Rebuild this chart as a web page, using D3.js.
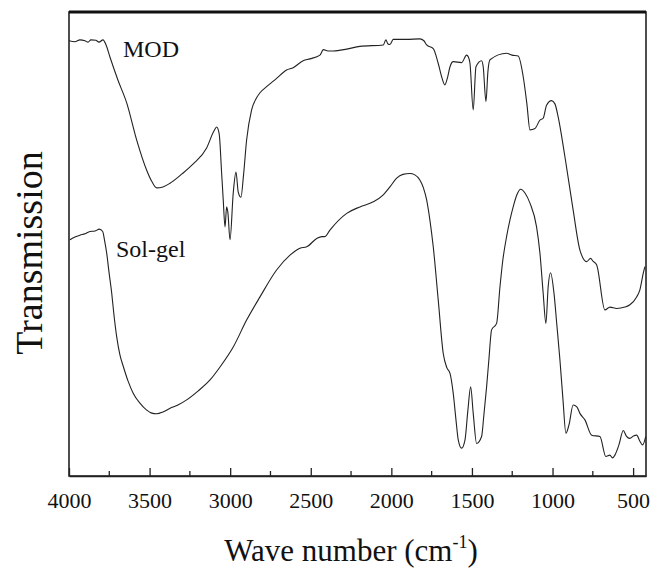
<!DOCTYPE html>
<html lang="en">
<head>
    <meta charset="UTF-8">
    <title>FTIR spectra MOD / Sol-gel</title>
    <script src="https://d3js.org/d3.v7.min.js"></script>
    <style>
        body { margin: 0; background: #fff; }
        text { font-family: "Liberation Serif", "Times New Roman", serif; fill: #111; }
    </style>
</head>
<body>
    <div id="my_dataviz"></div>

    <script>
        // wave numbers (cm-1) and transmission (arbitrary units)
        var modWave = [4000,3963,3932,3901,3882,3864,3833,3814,3789,3770,3746,3696,3642,3580,3518,3485,3456,3417,3373,3299,
                       3231,3146,3100,3084,3068,3054,3043,3032,3022,3014,3001,2981,2964,2950,2933,2917,2898,2867,2836,2815,
                       2774,2712,2650,2609,2547,2505,2443,2422,2393,2360,2277,2195,2050,2034,2021,2009,1988,1905,1823,1798,
                       1781,1740,1709,1686,1668,1652,1636,1616,1564,1533,1522,1512,1492,1475,1440,1430,1413,1401,1388,1285,
                       1252,1213,1182,1159,1140,1109,1078,1058,1037,1006,985,965,923,872,830,788,764,749,726,675,
                       644,602,551,520,478,458,437,427];
        var modT = [93.8,93.6,94.0,93.8,93.5,94.0,93.9,93.5,94.0,92.9,90.3,85.3,80.4,72.4,65.9,63.4,62.1,62.3,63.1,65.1,
                    67.2,70.7,74.4,75.2,73.7,65.9,59.5,53.7,58.0,56.7,50.9,61.0,65.5,61.2,60.1,64.9,72.4,78.9,81.5,82.6,
                    83.9,85.7,87.5,88.0,89.5,89.9,90.7,91.9,91.6,91.6,92.0,92.6,92.9,94.0,93.1,93.0,94.1,94.1,94.2,93.8,
                    92.9,92.1,88.9,85.8,84.3,85.8,88.2,89.3,89.1,90.7,90.3,88.9,78.9,88.2,89.5,88.2,80.7,87.1,89.7,91.1,
                    90.7,90.5,86.1,80.2,74.6,74.9,76.7,77.1,79.9,80.9,80.2,77.4,68.8,57.3,48.7,46.2,46.9,46.3,45.5,35.8,
                    36.4,36.1,36.4,36.9,38.6,40.1,43.7,45.1];

        var solWave = [3994,3963,3932,3901,3870,3839,3812,3791,3780,3766,3752,3735,3721,3704,3684,3663,3634,3601,3560,3518,
                       3491,3456,3417,3373,3324,3270,3200,3125,3063,2981,2898,2815,2712,2629,2567,2525,2463,2431,2412,2381,
                       2277,2195,2112,2050,2009,1967,1928,1885,1854,1823,1801,1781,1761,1740,1709,1678,1655,1636,1616,1599,
                       1585,1564,1543,1525,1508,1492,1471,1440,1426,1409,1395,1378,1347,1326,1308,1285,1264,1244,1221,1198,
                       1171,1140,1099,1078,1058,1041,1027,1012,991,973,954,935,917,898,872,849,830,799,757,706,
                       669,644,628,613,588,561,542,520,498,478,458,441,422];
        var solT = [50.9,51.5,51.9,52.2,52.7,52.8,53.2,52.7,50.9,48.0,44.0,39.4,34.7,30.0,26.1,23.6,20.5,17.8,15.7,14.2,
                    13.6,13.4,13.8,14.6,15.3,16.4,18.3,20.7,23.5,27.8,33.6,38.6,44.4,47.6,49.1,49.4,51.2,51.6,51.6,53.0,
                    56.6,58.0,59.1,60.6,62.3,64.2,65.0,65.2,64.9,63.8,62.1,59.5,55.2,49.4,37.9,26.4,23.3,22.1,17.8,12.1,
                    7.8,6.0,7.8,14.2,19.2,13.5,7.0,8.5,13.1,19.2,25.0,31.5,32.9,40.8,46.6,51.6,55.2,58.0,60.6,61.8,
                    61.0,58.8,53.7,48.0,39.4,32.9,40.8,43.8,39.4,32.5,25.0,16.4,9.2,11.0,15.3,14.9,13.5,12.1,8.8,8.5,
                    4.2,4.5,3.9,4.5,6.7,9.8,8.6,8.1,8.6,8.8,7.5,6.7,8.5];

        var tickValues = [4000,3500,3000,2500,2000,1500,1000,500];
        var minorTicks = [3750,3250,2750,2250,1750,1250,750];

        var seriesNames = ["MOD", "Sol-gel"];

        var W = 650, H = 569;
        var margin = {top: 12, right: 4, bottom: 93, left: 69},
            width = W - margin.left - margin.right,
            height = H - margin.top - margin.bottom;

        var svg = d3.select("#my_dataviz")
            .append("svg")
                .attr("width", W)
                .attr("height", H)
            .append("g")
                .attr("transform", "translate(" + margin.left + "," + margin.top + ")");

        // reversed x axis, as usual for IR spectra
        var x = d3.scaleLinear()
            .domain([4000, 420])
            .range([0, width]);

        var y = d3.scaleLinear()
            .domain([0, 100])
            .range([height, 0]);

        var line = d3.line()
            .x(function(d) { return x(d[0]); })
            .y(function(d) { return y(d[1]); })
            .curve(d3.curveMonotoneX);

        var modData = d3.zip(modWave, modT);
        var solData = d3.zip(solWave, solT);

        svg.selectAll(".spectrum")
            .data([modData, solData])
            .enter()
            .append("path")
                .attr("class", "spectrum")
                .attr("d", line)
                .attr("fill", "none")
                .attr("stroke", "#222")
                .attr("stroke-width", 1.1)
                .attr("stroke-linejoin", "round");

        // frame
        svg.append("rect")
            .attr("x", 0).attr("y", 0)
            .attr("width", width).attr("height", height)
            .attr("fill", "none")
            .attr("stroke", "#222")
            .attr("stroke-width", 1.6);
        svg.append("line")
            .attr("x1", 0).attr("x2", width)
            .attr("y1", 0).attr("y2", 0)
            .attr("stroke", "#111").attr("stroke-width", 3);

        // bottom axis, ticks pointing inward
        var xAxis = svg.append("g")
            .attr("transform", "translate(0," + height + ")")
            .call(d3.axisBottom(x).tickValues(tickValues).tickFormat(d3.format("d"))
                .tickSizeInner(-8).tickSizeOuter(0).tickPadding(16));
        xAxis.select(".domain").attr("stroke", "#222").attr("stroke-width", 1.6);
        xAxis.selectAll(".tick line").attr("stroke", "#222").attr("stroke-width", 1.3);
        xAxis.selectAll("text")
            .style("font-family", "'Liberation Serif', 'Times New Roman', serif")
            .style("font-size", "22px")
            .attr("fill", "#111");

        svg.append("g")
            .attr("transform", "translate(0," + height + ")")
            .selectAll("line")
            .data(minorTicks)
            .enter()
            .append("line")
                .attr("x1", function(d) { return x(d); })
                .attr("x2", function(d) { return x(d); })
                .attr("y1", 0).attr("y2", -5)
                .attr("stroke", "#222").attr("stroke-width", 1.3);

        // curve labels
        svg.selectAll(".serieslabel")
            .data(seriesNames)
            .enter()
            .append("text")
                .attr("class", "serieslabel")
                .attr("x", function(d, i) { return i === 0 ? 54 : 47; })
                .attr("y", function(d, i) { return i === 0 ? 45 : 245; })
                .style("font-size", "24px")
                .text(function(d) { return d; });

        // axis titles
        var xt = svg.append("text")
            .attr("x", 282)
            .attr("y", 549)
            .attr("text-anchor", "middle")
            .style("font-size", "31px");
        xt.append("tspan").text("Wave number (cm");
        xt.append("tspan").attr("dy", -13).style("font-size", "18px").text("-1");
        xt.append("tspan").attr("dy", 13).text(")");

        svg.append("text")
            .attr("transform", "translate(" + (42 - margin.left) + "," + (253 - margin.top) + ") rotate(-90)")
            .attr("text-anchor", "middle")
            .style("font-size", "38px")
            .text("Transmission");
    </script>
</body>
</html>
